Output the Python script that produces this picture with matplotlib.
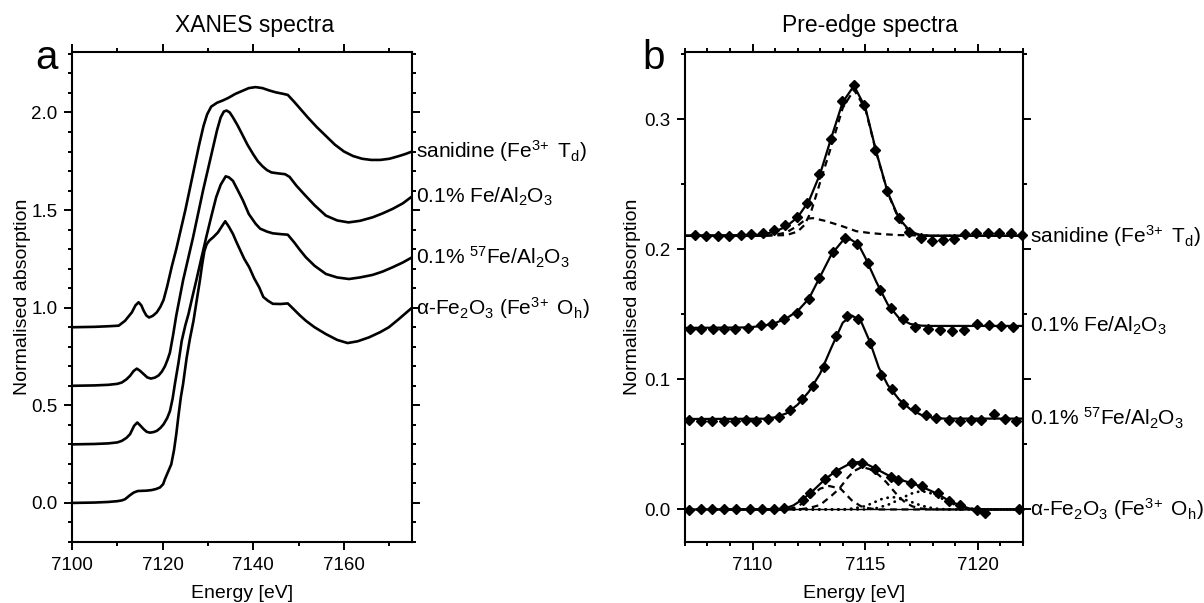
#!/usr/bin/python3
# -*- coding: utf-8 -*-
# Fe K-edge XANES spectra (a) and pre-edge fits (b)
import matplotlib
matplotlib.use('Agg')
import matplotlib.pyplot as plt
from matplotlib.ticker import MultipleLocator

# ----------------------------------------------------------------------
# (a) XANES, normalised and vertically offset
xanes_e_san = [7100, 7105, 7108, 7110.3, 7111.7, 7113.2, 7114, 7114.7, 7115.3,
               7115.8, 7116.4, 7117, 7117.8, 7118.7, 7119.5, 7120.2, 7121, 7122,
               7123, 7124, 7125, 7126, 7127, 7128, 7129, 7129.8, 7130.7, 7132,
               7133.3, 7134.5, 7136, 7137.5, 7139, 7140.5, 7142, 7143.5, 7145,
               7146.5, 7147.6, 7149, 7150.5, 7152, 7154, 7156, 7158, 7160,
               7162, 7164, 7166, 7168, 7170, 7172, 7173.5, 7175]
xanes_san = [0.900, 0.902, 0.905, 0.908, 0.933, 0.976, 1.012, 1.028, 1.012,
             0.985, 0.960, 0.950, 0.958, 0.976, 1.005, 1.040, 1.11, 1.21,
             1.30, 1.40, 1.50, 1.61, 1.72, 1.83, 1.93, 1.99, 2.03, 2.05,
             2.062, 2.075, 2.095, 2.11, 2.125, 2.13, 2.125, 2.113, 2.103,
             2.096, 2.09, 2.055, 2.015, 1.975, 1.925, 1.88, 1.835, 1.80,
             1.777, 1.763, 1.757, 1.757, 1.763, 1.776, 1.787, 1.80]

xanes_e_fe = [7100, 7105, 7108, 7110, 7111, 7112, 7112.8, 7113.6, 7114.3,
              7115, 7115.8, 7116.6, 7117.4, 7118.3, 7119.1, 7119.8, 7120.5,
              7121.1, 7121.6, 7122.3, 7123, 7124.5, 7125.6, 7126.7, 7127.8,
              7128.9, 7130, 7131, 7132, 7132.8, 7133.5, 7134.1, 7134.8, 7135.5,
              7136.5, 7137.5, 7138.7, 7140, 7141, 7142, 7143, 7144, 7145.5,
              7147, 7148, 7149.5, 7151.5, 7153.5, 7156, 7158.5, 7161, 7163.5,
              7166.3, 7168.5, 7170.7, 7173, 7175]
xanes_fe = [0.600, 0.602, 0.605, 0.610, 0.617, 0.633, 0.651, 0.676, 0.688,
            0.677, 0.660, 0.643, 0.637, 0.642, 0.653, 0.672, 0.700,
            0.735, 0.77, 0.86, 0.96, 1.14, 1.25, 1.36, 1.48,
            1.60, 1.71, 1.81, 1.91, 1.975, 2.005, 2.01, 2.0, 1.975,
            1.935, 1.89, 1.835, 1.785, 1.75, 1.725, 1.705, 1.693, 1.688,
            1.684, 1.67, 1.625, 1.574, 1.525, 1.472, 1.447, 1.437, 1.445,
            1.463, 1.483, 1.506, 1.535, 1.57]

xanes_e_fe57 = [7100, 7105, 7108, 7110, 7111, 7112, 7112.8, 7113.7, 7114.4,
                7115, 7115.8, 7116.5, 7117.2, 7118, 7118.7, 7119.5, 7120.2,
                7121, 7121.6, 7122.2, 7122.7, 7123.5, 7124.2, 7125, 7125.7,
                7126.5, 7127.4, 7128.5, 7129.6, 7130.7, 7131.8, 7132.8, 7133.9,
                7134.6, 7135.5, 7136.5, 7137.7, 7139, 7140.5, 7141.5, 7143,
                7144.3, 7146, 7147.6, 7149, 7150.3, 7151.6, 7153.5, 7156,
                7158.5, 7161.1, 7163.5, 7166.3, 7168.5, 7170.7, 7173, 7175]
xanes_fe57 = [0.300, 0.302, 0.305, 0.310, 0.318, 0.333, 0.352, 0.395, 0.412,
              0.398, 0.378, 0.364, 0.360, 0.363, 0.369, 0.384, 0.403,
              0.435, 0.47, 0.535, 0.61, 0.72, 0.83, 0.91, 0.968,
              1.05, 1.138, 1.25, 1.36, 1.465, 1.566, 1.63, 1.673,
              1.668, 1.65, 1.605, 1.55, 1.48, 1.43, 1.405, 1.39,
              1.381, 1.377, 1.374, 1.335, 1.295, 1.258, 1.215, 1.173,
              1.155, 1.147, 1.155, 1.168, 1.185, 1.207, 1.232, 1.258]

xanes_e_hem = [7100, 7105, 7108, 7110, 7111, 7111.7, 7112.7, 7113.6, 7114.5,
               7115.5, 7116.5, 7117.6, 7118.5, 7119.4, 7120.1, 7120.5, 7121.2,
               7121.9, 7122.5, 7123, 7123.5, 7124, 7124.5, 7125.3, 7126,
               7126.8, 7127.5, 7128.2, 7128.7, 7129.2, 7129.7, 7130.3, 7131.2,
               7132.2, 7133, 7133.8, 7134.6, 7135.5, 7136.3, 7137, 7138,
               7139.1, 7140.2, 7141.3, 7142.2, 7143.2, 7144.3, 7146, 7147.6,
               7149, 7150.3, 7151.6, 7153.5, 7156, 7158.5, 7160.8, 7163,
               7165.5, 7168, 7169.9, 7172, 7175]
xanes_hem = [0.000, 0.002, 0.005, 0.009, 0.013, 0.019, 0.038, 0.053, 0.061,
             0.062, 0.063, 0.066, 0.071, 0.079, 0.096, 0.122, 0.160,
             0.198, 0.27, 0.352, 0.45, 0.54, 0.609, 0.745, 0.84,
             0.933, 1.036, 1.138, 1.22, 1.29, 1.325, 1.344, 1.362,
             1.386, 1.415, 1.443, 1.415, 1.378, 1.335, 1.30, 1.25,
             1.207, 1.15, 1.104, 1.055, 1.036, 1.02, 1.019, 1.022,
             0.99, 0.96, 0.933, 0.90, 0.865, 0.835, 0.819, 0.828,
             0.848, 0.875, 0.90, 0.94, 1.0]

# ----------------------------------------------------------------------
# (b) pre-edge: data points, total fit, fit components
pre_e_san = [7107.44, 7107.95, 7108.47, 7108.95, 7109.47, 7109.94, 7110.45,
             7110.94, 7111.45, 7111.95, 7112.43, 7112.95, 7113.46, 7113.95,
             7114.49, 7114.93, 7115.45, 7115.96, 7116.48, 7116.96, 7117.46,
             7117.94, 7118.45, 7118.92, 7119.42, 7119.92, 7120.43, 7120.95,
             7121.46, 7121.95]
pre_san = [0.2108, 0.2103, 0.2103, 0.2103, 0.2108, 0.2115, 0.2121,
           0.2146, 0.2183, 0.2249, 0.2358, 0.2574, 0.2845, 0.3136,
           0.3258, 0.3105, 0.2762, 0.2444, 0.2236, 0.2130, 0.2088,
           0.2066, 0.2072, 0.2078, 0.2115, 0.2121, 0.2121, 0.2121,
           0.2126, 0.2110]
fit_e_san = [7107, 7110, 7110.5, 7111, 7111.5, 7112, 7112.5, 7113, 7113.5,
             7114, 7114.5, 7115, 7115.5, 7116, 7116.5, 7117, 7117.5, 7118, 7122]
fit_san = [0.2103, 0.2108, 0.2115, 0.2135, 0.2175, 0.2245, 0.2370, 0.2580, 0.2860,
           0.3130, 0.3255, 0.3090, 0.2740, 0.2435, 0.2235, 0.2135, 0.2105, 0.2102, 0.2103]
comp1_e_san = [7107, 7110.5, 7111.5, 7112, 7112.3, 7112.6, 7113, 7113.5, 7114,
               7114.5, 7115, 7115.5, 7116, 7116.5, 7117, 7117.5, 7118, 7122]
comp1_san = [0.2103, 0.2103, 0.2108, 0.2135, 0.2185, 0.2290, 0.2515, 0.2795, 0.3085,
             0.3225, 0.3080, 0.2735, 0.2430, 0.2225, 0.2125, 0.2105, 0.2103, 0.2103]
comp2_e_san = [7107, 7110.5, 7111, 7111.5, 7112, 7112.4, 7112.7, 7113.2, 7113.6,
               7114, 7114.6, 7115.2, 7115.8, 7116.5, 7118, 7122]
comp2_san = [0.2103, 0.2103, 0.2110, 0.2128, 0.2180, 0.2235, 0.2238, 0.2218, 0.2197,
             0.2175, 0.2138, 0.2124, 0.2115, 0.2108, 0.2104, 0.2103]

pre_e_fe = [7107.22, 7107.69, 7108.25, 7108.73, 7109.23, 7109.79, 7110.38,
            7110.85, 7111.41, 7111.95, 7112.5, 7112.95, 7113.59, 7114.09,
            7114.65, 7115.13, 7115.66, 7116.15, 7116.69, 7117.2, 7117.79,
            7118.31, 7118.86, 7119.38, 7119.95, 7120.48, 7121.02, 7121.54]
pre_fe = [0.139, 0.139, 0.139, 0.139, 0.1385, 0.1397, 0.1415,
          0.1423, 0.1462, 0.151, 0.1615, 0.178, 0.198, 0.2082,
          0.2038, 0.1893, 0.1685, 0.1544, 0.1462, 0.1403, 0.1385,
          0.1377, 0.1372, 0.1377, 0.1423, 0.1415, 0.1408, 0.1403]
fit_e_fe = [7107, 7109.5, 7110, 7110.5, 7111, 7111.5, 7112, 7112.5, 7113, 7113.5,
            7114, 7114.35, 7114.7, 7115, 7115.5, 7116, 7116.5, 7117, 7117.5, 7118, 7122]
fit_fe = [0.1395, 0.1398, 0.1402, 0.1412, 0.1432, 0.1468, 0.1525, 0.1620, 0.1790, 0.1960,
          0.2065, 0.2075, 0.2035, 0.1935, 0.1745, 0.1575, 0.1470, 0.1425, 0.1412, 0.1410, 0.1410]

pre_e_fe57 = [7107.19, 7107.7, 7108.2, 7108.72, 7109.2, 7109.72, 7110.16,
              7110.7, 7111.19, 7111.67, 7112.19, 7112.7, 7113.18, 7113.68,
              7114.19, 7114.68, 7115.19, 7115.71, 7116.18, 7116.69, 7117.2,
              7117.69, 7118.16, 7118.7, 7119.21, 7119.67, 7120.12, 7120.73,
              7121.2, 7121.68]
pre_fe57 = [0.069, 0.068, 0.068, 0.068, 0.068, 0.069, 0.068,
            0.0697, 0.071, 0.0762, 0.0846, 0.0946, 0.1095, 0.1331,
            0.1488, 0.1467, 0.128, 0.1031, 0.0928, 0.0808, 0.0775,
            0.0723, 0.0705, 0.0685, 0.068, 0.0685, 0.069, 0.0736,
            0.0697, 0.068]
fit_e_fe57 = [7107, 7110.5, 7111, 7111.5, 7112, 7112.5, 7113, 7113.5, 7114, 7114.4,
              7114.8, 7115.2, 7115.6, 7116, 7116.5, 7117, 7117.5, 7118, 7118.5, 7122]
fit_fe57 = [0.0695, 0.0697, 0.0708, 0.0738, 0.0805, 0.0905, 0.1045, 0.1245, 0.1435, 0.1490,
            0.1450, 0.1290, 0.1090, 0.0955, 0.0845, 0.0770, 0.0725, 0.0705, 0.0698, 0.0698]

pre_e_hem = [7107.2, 7107.7, 7108.2, 7108.75, 7109.26, 7109.87, 7110.42,
             7110.94, 7111.4, 7112.24, 7112.56, 7113.22, 7113.7, 7114.4,
             7114.85, 7115.42, 7116.16, 7116.45, 7117.03, 7117.53, 7118.23,
             7118.73, 7119.22, 7119.94, 7120.3, 7121.83]
pre_hem = [-0.0005, 0.0, 0.0, 0.0, 0.0, 0.0, 0.0,
           0.0, 0.0008, 0.0075, 0.0126, 0.0236, 0.029, 0.0356,
           0.036, 0.0313, 0.0252, 0.023, 0.0203, 0.018, 0.0124,
           0.0066, 0.0031, -0.0008, -0.0028, 0.0005]
fit_e_hem = [7107, 7111.3, 7111.8, 7112.2, 7112.6, 7113.2, 7113.7, 7114.3, 7114.7,
             7115.1, 7115.5, 7116.1, 7116.5, 7117, 7117.5, 7118.2, 7118.7, 7119.2,
             7119.6, 7120, 7122]
fit_hem = [0.0, 0.0, 0.003, 0.0075, 0.013, 0.023, 0.0295, 0.035, 0.0365,
           0.0345, 0.031, 0.0255, 0.023, 0.0205, 0.0175, 0.012, 0.0068, 0.0032,
           0.0008, 0.0, 0.0]
base_e_hem = [7107, 7122]
base_hem = [0.0, 0.0]
# dashed components
comp1_e_hem = [7107, 7111.5, 7111.9, 7112.2, 7112.6, 7113, 7113.4, 7113.9, 7114.4,
               7114.8, 7115.2, 7115.6, 7122]
comp1_hem = [0.0, 0.0, 0.0015, 0.0045, 0.0105, 0.016, 0.018, 0.016, 0.007,
             0.0025, 0.0007, 0.0, 0.0]
comp2_e_hem = [7107, 7112, 7112.5, 7113, 7113.5, 7113.85, 7114.2, 7114.5, 7114.85,
               7115.2, 7115.6, 7115.93, 7116.2, 7116.5, 7116.8, 7117.1, 7117.5,
               7118, 7122]
comp2_hem = [0.0, 0.0, 0.001, 0.0035, 0.0105, 0.016, 0.024, 0.0295, 0.0326,
             0.031, 0.0265, 0.021, 0.0155, 0.0095, 0.005, 0.0023, 0.0007,
             0.0, 0.0]
# dotted components
comp3_e_hem = [7107, 7114, 7114.5, 7115, 7115.4, 7115.8, 7116.2, 7116.6, 7117,
               7117.4, 7117.8, 7118.3, 7118.8, 7122]
comp3_hem = [0.0, 0.0, 0.0008, 0.0025, 0.0055, 0.0085, 0.0095, 0.0085, 0.006,
             0.0035, 0.0015, 0.0003, 0.0, 0.0]
comp4_e_hem = [7107, 7115, 7115.5, 7116, 7116.5, 7117, 7117.5, 7118, 7118.5,
               7119, 7119.5, 7120, 7122]
comp4_hem = [0.0, 0.0, 0.001, 0.0035, 0.0075, 0.012, 0.0142, 0.012, 0.0075,
             0.0035, 0.001, 0.0, 0.0]

LABELS = [r'sanidine (Fe$^{3\!+}$ T$_d$)',
          r'0.1% Fe/Al$_2$O$_3$',
          r'0.1% $^{57}$Fe/Al$_2$O$_3$',
          r'α-Fe$_2$O$_3$ (Fe$^{3\!+}$ O$_h$)']

# ----------------------------------------------------------------------
def style_axes(ax):
    for sp in ax.spines.values():
        sp.set_linewidth(1.5)
    ax.tick_params(which='both', direction='out', top=True, right=True,
                   labelsize=13.5, width=1.4, pad=5)
    ax.tick_params(which='major', length=5.5)
    ax.tick_params(which='minor', length=3)

# ----------------------------------------------------------------------
def main():
    plt.rcParams['font.family'] = ['Liberation Sans', 'DejaVu Sans']
    plt.rcParams['mathtext.default'] = 'regular'

    fig = plt.figure(figsize=(12.04, 6.03), dpi=100)
    ax1 = fig.add_axes([0.0598, 0.1012, 0.2824, 0.8126])
    ax2 = fig.add_axes([0.5689, 0.1012, 0.2808, 0.8126])

    # --- panel a ---
    curves = [(xanes_e_san, xanes_san), (xanes_e_fe, xanes_fe),
              (xanes_e_fe57, xanes_fe57), (xanes_e_hem, xanes_hem)]
    for (e, a), lab in zip(curves, LABELS):
        ax1.plot(e, a, color='black', lw=1.9, solid_joinstyle='round')
        ax1.annotate(lab, xy=(1.0, a[-1]), xycoords=('axes fraction', 'data'),
                     xytext=(4, 0), textcoords='offset pixels',
                     ha='left', va='center', fontsize=15, annotation_clip=False)
    ax1.set_xlim(7100, 7175)
    ax1.set_ylim(-0.2, 2.31)
    ax1.xaxis.set_major_locator(MultipleLocator(20))
    ax1.xaxis.set_minor_locator(MultipleLocator(10))
    ax1.yaxis.set_major_locator(MultipleLocator(0.5))
    ax1.yaxis.set_minor_locator(MultipleLocator(0.1))
    style_axes(ax1)
    ax1.set_xlabel('Energy [eV]', fontsize=14, labelpad=8)
    ax1.set_ylabel('Normalised absorption', fontsize=14, labelpad=0)
    ax1.text(0.538, 1.04, 'XANES spectra', transform=ax1.transAxes,
             ha='center', va='baseline', fontsize=16.5)
    ax1.text(-0.108, 0.965, 'a', transform=ax1.transAxes,
             ha='left', va='baseline', fontsize=29)

    # --- panel b ---
    mk = dict(marker='D', ms=5.4, color='black', ls='none')
    ln = dict(color='black', lw=1.6)
    ds = dict(color='black', lw=1.6, ls=(0, (3, 2.2)))
    dt = dict(color='black', lw=2.0, ls=(0, (0.1, 2.2)), dash_capstyle='round')

    ax2.plot(base_e_hem, base_hem, color='black', lw=1.0)
    ax2.plot(comp1_e_san, comp1_san, **ds)
    ax2.plot(comp2_e_san, comp2_san, **ds)
    ax2.plot(comp1_e_hem, comp1_hem, **ds)
    ax2.plot(comp2_e_hem, comp2_hem, **ds)
    ax2.plot(comp3_e_hem, comp3_hem, **dt)
    ax2.plot(comp4_e_hem, comp4_hem, **dt)

    spectra = [(pre_e_san, pre_san, fit_e_san, fit_san),
               (pre_e_fe, pre_fe, fit_e_fe, fit_fe),
               (pre_e_fe57, pre_fe57, fit_e_fe57, fit_fe57),
               (pre_e_hem, pre_hem, fit_e_hem, fit_hem)]
    for (pe, pv, fe, fv), lab in zip(spectra, LABELS):
        ax2.plot(fe, fv, **ln)
        ax2.plot(pe, pv, clip_on=False, **mk)
        ax2.annotate(lab, xy=(1.0, fv[-1]), xycoords=('axes fraction', 'data'),
                     xytext=(7, 0), textcoords='offset pixels',
                     ha='left', va='center', fontsize=15, annotation_clip=False)
    ax2.set_xlim(7107, 7122)
    ax2.set_ylim(-0.025, 0.3515)
    ax2.xaxis.set_major_locator(MultipleLocator(5))
    ax2.xaxis.set_minor_locator(MultipleLocator(1))
    ax2.yaxis.set_major_locator(MultipleLocator(0.1))
    ax2.yaxis.set_minor_locator(MultipleLocator(0.05))
    style_axes(ax2)
    ax2.set_xlabel('Energy [eV]', fontsize=14, labelpad=8)
    ax2.set_ylabel('Normalised absorption', fontsize=14, labelpad=2)
    ax2.text(0.547, 1.04, 'Pre-edge spectra', transform=ax2.transAxes,
             ha='center', va='baseline', fontsize=16.5)
    ax2.text(-0.127, 0.965, 'b', transform=ax2.transAxes,
             ha='left', va='baseline', fontsize=29)

    fig.savefig('out.png', dpi=100)

# ----------------------------------------------------------------------
if __name__ == "__main__":
    main()
